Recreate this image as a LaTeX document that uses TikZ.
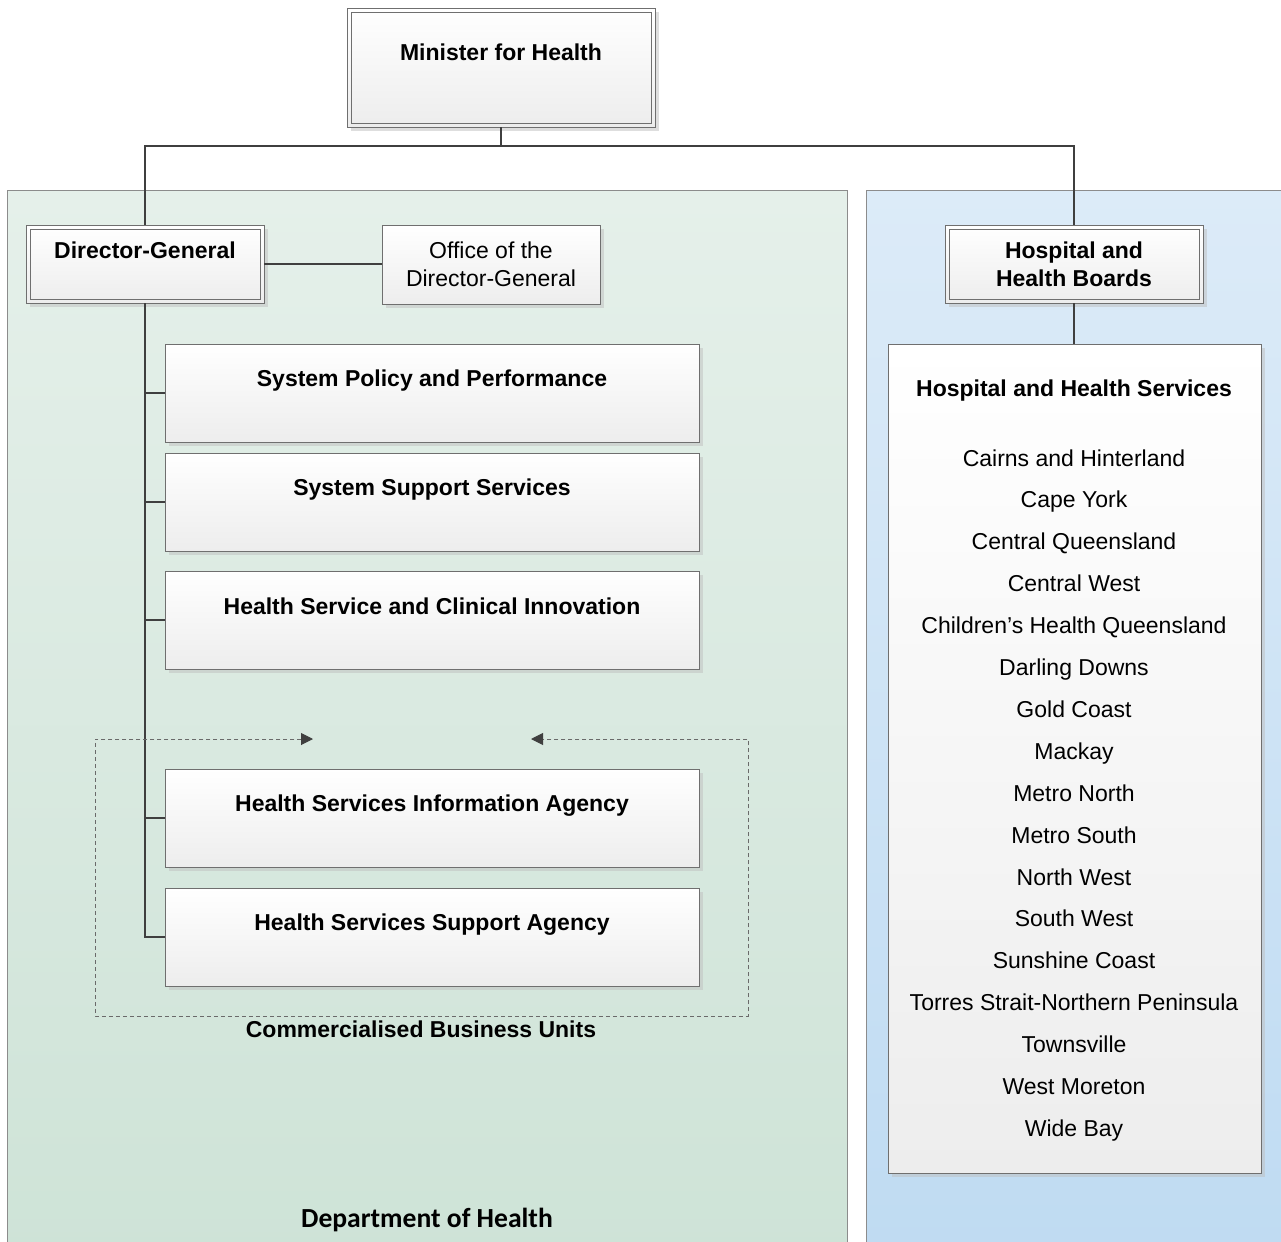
\documentclass[tikz,border=0pt]{standalone}
\usepackage{fontspec}
\setmainfont{Liberation Sans}
\newfontfamily\calfont{Carlito}
\usetikzlibrary{shadows,arrows.meta}
\definecolor{linec}{HTML}{3F3F3F}
\definecolor{boxline}{HTML}{6F6F6F}
\definecolor{panelline}{HTML}{8C8C8C}
\definecolor{grtop}{HTML}{E5F0EA}
\definecolor{grbot}{HTML}{CEE3D7}
\definecolor{bltop}{HTML}{DCEBF8}
\definecolor{blbot}{HTML}{BFDBF2}
\definecolor{boxbot}{HTML}{EDEDED}
\definecolor{dashc}{HTML}{6A6A6A}
\begin{document}
\begin{tikzpicture}[x=0.5pt,y=-0.5pt,
  box/.style={draw=boxline, line width=0.5pt, top color=white, bottom color=boxbot,
    inner sep=0pt, outer sep=0pt,
    drop shadow={shadow xshift=2pt, shadow yshift=-2pt, fill=black!25, opacity=0.5}},
  dbox/.style={box, path picture={\draw[boxline, line width=0.5pt]
      ([shift={(2pt,2pt)}]path picture bounding box.south west) rectangle
      ([shift={(-2pt,-2pt)}]path picture bounding box.north east);}},
  conn/.style={draw=linec, line width=1pt},
  txt/.style={font=\fontsize{11.5}{14}\selectfont, anchor=base, inner sep=0pt},
  btxt/.style={txt, font=\fontsize{11.5}{14}\selectfont\bfseries},
  mtxt/.style={txt, anchor=center, align=center},
  bmtxt/.style={btxt, anchor=center, align=center},
  cbuline/.style={draw=dashc, line width=0.5pt, dash pattern=on 2pt off 1.5pt,
    {Triangle[length=6pt,width=6pt,fill=linec,color=linec]}-{Triangle[length=6pt,width=6pt,fill=linec,color=linec]}}
]
\useasboundingbox (0,0) rectangle (1281,1242);
\clip (0,0) rectangle (1281,1242);
\fill[white] (0,0) rectangle (1281,1242);
% panels
\path[draw=panelline, line width=0.5pt, top color=grtop, bottom color=grbot] (7,190) rectangle (847,1260);
\path[draw=panelline, line width=0.5pt, top color=bltop, bottom color=blbot] (866,190) rectangle (1300,1260);

% boxes
\node[dbox, minimum width=154pt, minimum height=59.5pt] (min) at (501,67.5) {};
\node[dbox, minimum width=119pt, minimum height=39pt] (dg) at (145,264) {};
\node[box, minimum width=109pt, minimum height=39.5pt] (office) at (491,264.5) {};
\node[dbox, minimum width=129pt, minimum height=39pt] (hhb) at (1074,264) {};
\node[box, minimum width=267pt, minimum height=49pt] (spp) at (432,393) {};
\node[box, minimum width=267pt, minimum height=49pt] (sss) at (432,502) {};
\node[box, minimum width=267pt, minimum height=49pt] (hsci) at (432,620) {};
\node[box, minimum width=267pt, minimum height=49pt] (hsia) at (432,818) {};
\node[box, minimum width=267pt, minimum height=49pt] (hssa) at (432,937) {};
\node[box, minimum width=186.5pt, minimum height=414.5pt] (hhs) at (1074.5,758.5) {};

% connectors
\coordinate (split) at (501,146);
\draw[conn] (min.south) -- (split);
\draw[conn] (split) -| (dg.north);
\draw[conn] (split) -| (hhb.north);
\draw[conn] (dg.east) -- (dg.east -| office.west);
\draw[conn] (dg.south) |- (spp.west);
\draw[conn] (dg.south) |- (sss.west);
\draw[conn] (dg.south) |- (hsci.west);
\draw[conn] (dg.south) |- (hsia.west);
\draw[conn] (dg.south) |- (hssa.west);
\draw[conn] (hhb.south) -- (hhb.south |- hhs.north);

% commercialised business units frame
\coordinate (cbuA) at (313,739);
\coordinate (cbuB) at (531,739);
\draw[cbuline] (cbuA) -- (95,739) -- (95,1016) -- (748,1016) -- (748,739) -- (cbuB);

% texts
\node[btxt] (tmin) at (501,61) {Minister for Health};
\node[btxt] (tdg) at (145,258) {Director-General};
\node[mtxt] (toffice) at (491,264) {Office of the\\Director-General};
\node[bmtxt] (thhb) at (1074,264) {Hospital and\\Health Boards};
\node[btxt] (tspp) at (432,386) {System Policy and Performance};
\node[btxt] (tsss) at (432,495) {System Support Services};
\node[btxt] (thsci) at (432,614) {Health Service and Clinical Innovation};
\node[btxt] (thsia) at (432,811) {Health Services Information Agency};
\node[btxt] (thssa) at (432,930) {Health Services Support Agency};
\node[btxt] (tcbu) at (421,1037) {Commercialised Business Units};
\node[txt, font=\calfont\bfseries\fontsize{13.8}{16}\selectfont] (tdoh) at (427,1227) {Department of Health};
\node[btxt] (thhs) at (1074,396) {Hospital and Health Services};
\foreach \t [count=\i from 0] in {Cairns and Hinterland, Cape York, Central Queensland, Central West,
  Children’s Health Queensland, Darling Downs, Gold Coast, Mackay, Metro North, Metro South,
  North West, South West, Sunshine Coast, Torres Strait-Northern Peninsula, Townsville,
  West Moreton, Wide Bay}
  \node[txt] (item\i) at (1074,{466+41.9*\i}) {\t};
\end{tikzpicture}
\end{document}
